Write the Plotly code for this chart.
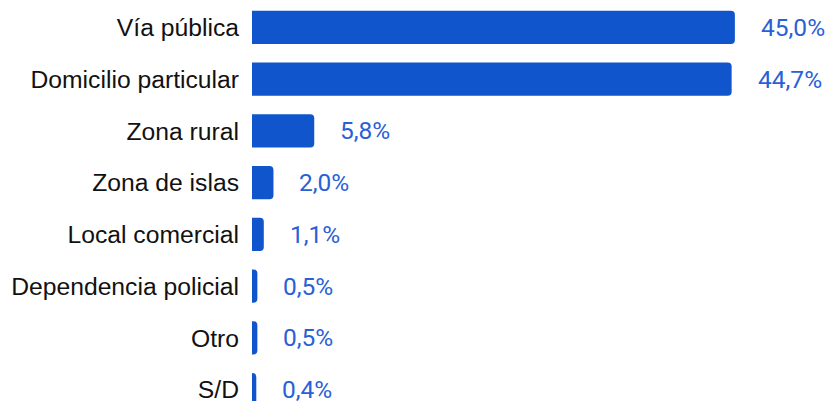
import plotly.graph_objects as go

categories = ["Vía pública", "Domicilio particular", "Zona rural", "Zona de islas",
              "Local comercial", "Dependencia policial", "Otro", "S/D"]
values = [45.0, 44.7, 5.8, 2.0, 1.1, 0.5, 0.5, 0.4]
value_labels = ["45,0%", "44,7%", "5,8%", "2,0%", "1,1%", "0,5%", "0,5%", "0,4%"]

idx = list(range(len(categories)))
bar_color = "#1155cc"
text_color = "#2a5fd6"

fig = go.Figure()
fig.add_trace(go.Bar(
    x=values, y=idx, orientation="h",
    marker=dict(color=bar_color, line=dict(width=0)),
    width=0.64, hoverinfo="skip",
))

for i, v, t in zip(idx, values, value_labels):
    fig.add_annotation(x=v, y=i, text=t, showarrow=False, xanchor="left",
                       yanchor="middle", xshift=24,
                       font=dict(family="Roboto", size=24.5, color=text_color))

fig.update_layout(
    width=825, height=401,
    margin=dict(l=252, r=0, t=0, b=0, pad=0, autoexpand=False),
    paper_bgcolor="white", plot_bgcolor="white",
    barcornerradius=4,
    showlegend=False,
    xaxis=dict(range=[0, 53.4], visible=False, fixedrange=True, automargin=False),
    yaxis=dict(range=[7.22, -0.53], tickvals=idx, ticktext=categories,
               showgrid=False, zeroline=False, showline=False, ticks="",
               ticklabelstandoff=12, automargin=False, ticklabeloverflow="allow",
               tickfont=dict(family="Liberation Sans, Arial", size=24.7, color="#111111")),
)

fig.write_html("out.html", config={"displayModeBar": False},
               post_script="document.body.style.margin='0';document.body.style.overflow='hidden';")
